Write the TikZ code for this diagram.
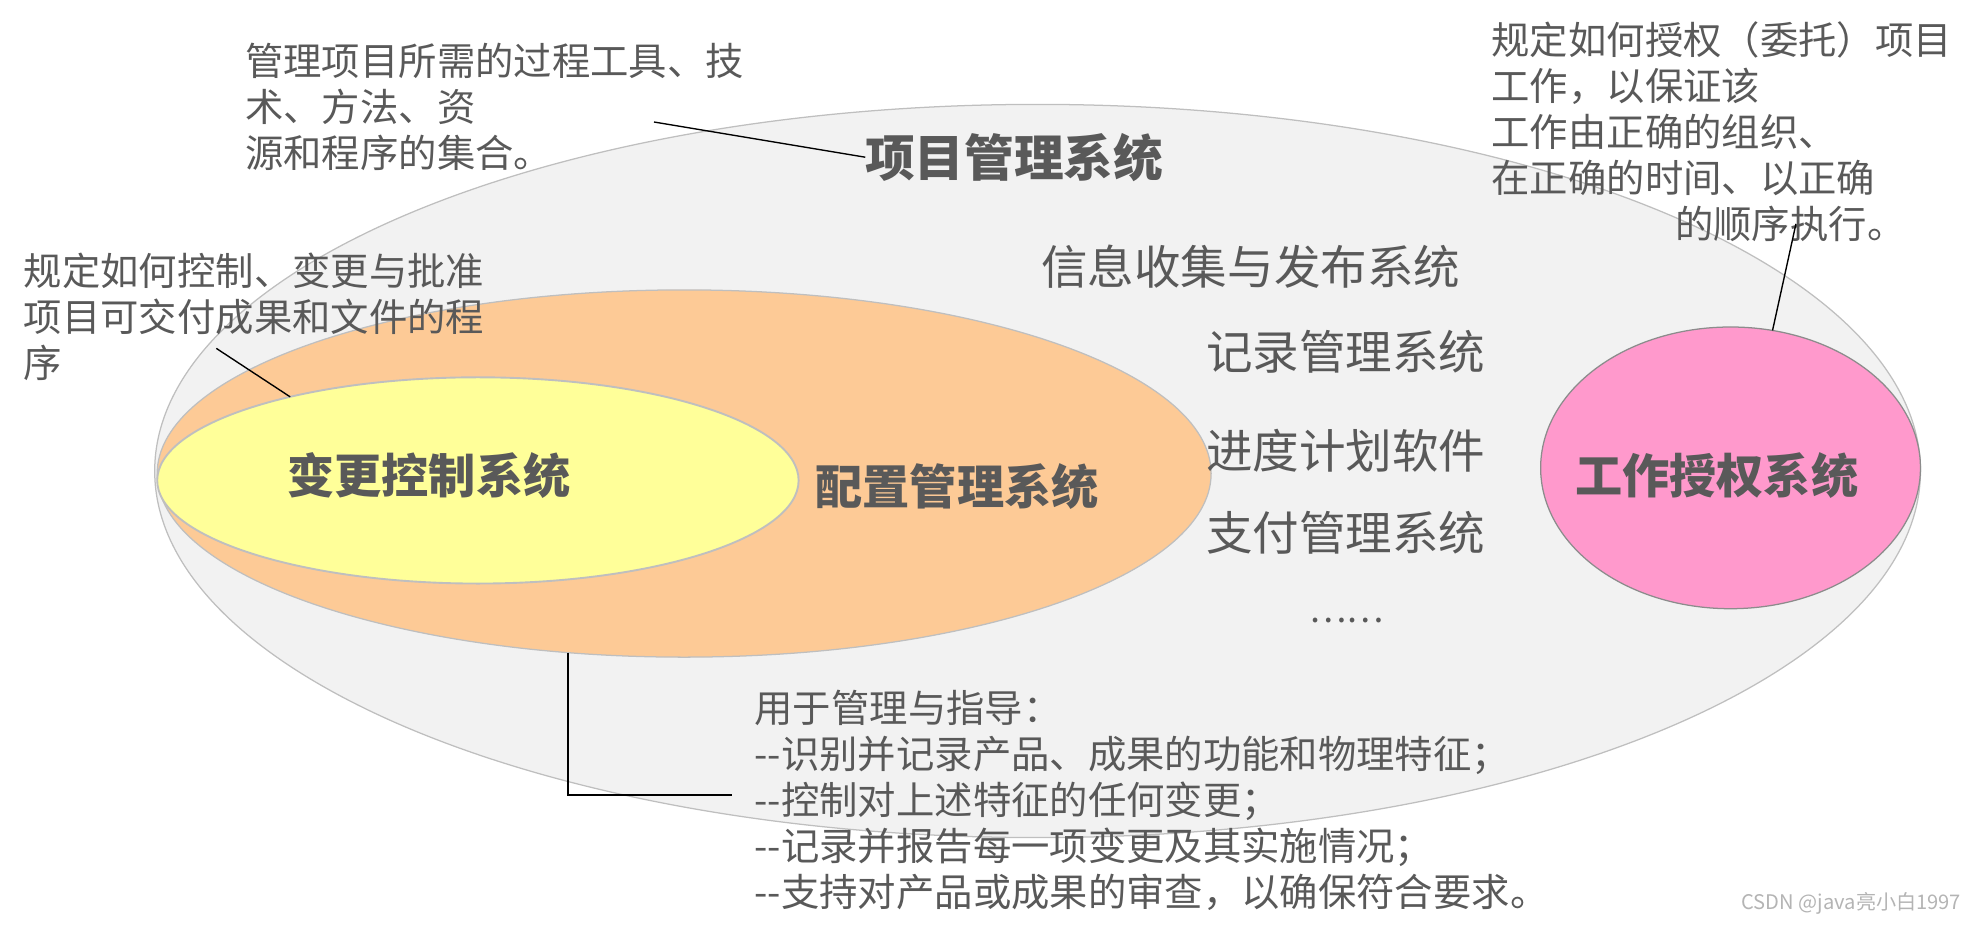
\documentclass[tikz,border=0pt]{standalone}
\usepackage{fontspec}
\newfontfamily\cjk{Noto Sans CJK SC}
\usetikzlibrary{shapes.geometric}
\definecolor{txtgrey}{HTML}{595959}
\definecolor{edgegrey}{HTML}{BFBFBF}
\definecolor{pinkedge}{HTML}{8C8C8C}
\definecolor{pmsfill}{HTML}{F2F2F2}
\definecolor{cmfill}{HTML}{FDCA96}
\definecolor{ccfill}{HTML}{FFFF99}
\definecolor{wafill}{HTML}{FF99CC}
\definecolor{wmgrey}{HTML}{B4B4B4}
\begin{document}
\begin{tikzpicture}[x=1pt,y=-1pt,
  every node/.style={inner sep=0pt, outer sep=0pt},
  region/.style={ellipse, draw=edgegrey, line width=1pt, inner sep=0pt},
  bigbold/.style={text=txtgrey, font=\cjk\bfseries\fontsize{39.5}{45}\selectfont},
  boldlabel/.style={text=txtgrey, font=\cjk\bfseries\fontsize{37.5}{43}\selectfont},
  item/.style={text=txtgrey, font=\cjk\fontsize{37}{43}\selectfont},
  note/.style={text=txtgrey, align=left, anchor=north west, font=\cjk\fontsize{30.5}{36.6}\selectfont},
  leader/.style={draw=black, line width=1.1pt},
  watermark/.style={text=wmgrey, font=\cjk\fontsize{16}{18}\selectfont}]
\useasboundingbox (0,0) rectangle (1568,739);

% regions
\node[region, fill=pmsfill, minimum width=1404pt, minimum height=583pt] (pms) at (825,374.5) {};
\node[region, fill=cmfill, minimum width=838pt, minimum height=292pt] (cm) at (544,376.5) {};
\node[region, fill=ccfill, line width=1.5pt, minimum width=510pt, minimum height=164pt] (cc) at (380,382) {};
\node[region, draw=pinkedge, fill=wafill, minimum width=302pt, minimum height=224pt] (wa) at (1376,372) {};

% region labels
\node[bigbold] (title) at (806.5,125) {项目管理系统};
\node[boldlabel] (cmlabel) at (761,387) {配置管理系统};
\node[boldlabel] (cclabel) at (341,378) {变更控制系统};
\node[boldlabel] (walabel) at (1365,378) {工作授权系统};

% other systems
\node[item] (info) at (994.5,212) {信息收集与发布系统};
\node[item] (rec) at (1070,280) {记录管理系统};
\node[item] (sched) at (1070,358) {进度计划软件};
\node[item] (pay) at (1070,424) {支付管理系统};
\node[item, font=\cjk\fontsize{28}{32}\selectfont] (more) at (1071,493) {……};

% notes
\node[note] (pmsnote) at (195,34) {管理项目所需的过程工具、技\\术、方法、资\\源和程序的集合。};
\node[note] (ccnote) at (19,201) {规定如何控制、变更与批准\\项目可交付成果和文件的程\\序};
\node[note] (wanote) at (1186,17) {规定如何授权（委托）项目\\工作，以保证该\\工作由正确的组织、\\在正确的时间、以正确\\\hspace*{146pt}的顺序执行。};
\node[note] (cmnote) at (600,548.5) {用于管理与指导：\\--识别并记录产品、成果的功能和物理特征；\\--控制对上述特征的任何变更；\\--记录并报告每一项变更及其实施情况；\\--支持对产品或成果的审查，以确保符合要求。};

% leaders
\coordinate (c1) at (520,97);
\coordinate (c2) at (172,277);
\coordinate (c3) at (1428,178);
\coordinate (c4) at (582,632);
\draw[leader] (c1) -- (title.west);
\draw[leader] (c2) -- (cc.156.8);
\draw[leader] (c3) -- (wa.73.1);
\draw[leader] (cm.237.6) |- (c4);

\node[watermark] (wm) at (1472,718) {CSDN @java亮小白1997};
\end{tikzpicture}
\end{document}
